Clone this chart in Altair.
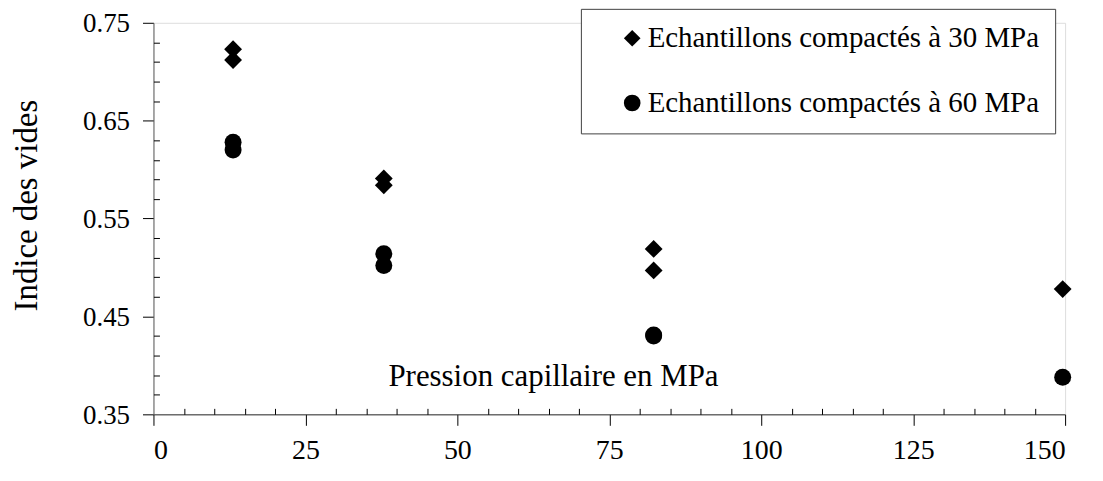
import altair as alt
import pandas as pd

series = ["Echantillons compactés à 30 MPa", "Echantillons compactés à 60 MPa"]

# capillary pressure (MPa) and void ratio
p_30 = [13.1, 13.1, 37.9, 37.9, 82.3, 82.3, 149.6]
e_30 = [0.723, 0.712, 0.591, 0.584, 0.519, 0.497, 0.478]
p_60 = [13.1, 13.1, 37.9, 37.9, 82.3, 82.3, 149.6]
e_60 = [0.628, 0.620, 0.514, 0.502, 0.431, 0.430, 0.388]

x_major = [0, 25, 50, 75, 100, 125, 150]
x_minor = [v for v in range(5, 150, 5) if v % 25 != 0]
y_major = [0.35, 0.45, 0.55, 0.65, 0.75]
y_minor = [0.37, 0.39, 0.41, 0.43, 0.47, 0.49, 0.51, 0.53, 0.57, 0.59, 0.61, 0.63, 0.67, 0.69, 0.71, 0.73]

df30 = pd.DataFrame({"p": p_30, "e": e_30, "serie": [series[0]] * len(p_30)})
df60 = pd.DataFrame({"p": p_60, "e": e_60, "serie": [series[1]] * len(p_60)})

FONT = "Liberation Serif"
xscale = alt.Scale(domain=[0, 150], nice=False, zero=False)
yscale = alt.Scale(domain=[0.35, 0.75], nice=False, zero=False)

x_axis = alt.Axis(
    orient="bottom", values=x_major, format="d", grid=False,
    tickSize=11, tickColor="black", domainColor="#303030",
    labelFont=FONT, labelFontSize=28, labelColor="black", labelPadding=11,
    labelBaseline="top",
    title="Pression capillaire en MPa", titleFont=FONT, titleFontSize=31,
    titleFontWeight="normal", titleColor="black",
    titleX=401, titleY=-38, titleAlign="center", titleBaseline="middle",
)
y_axis = alt.Axis(
    orient="left", values=y_major, format=".2f", grid=False,
    tickSize=11, tickColor="black", domainColor="#606060",
    labelFont=FONT, labelFontSize=27, labelColor="black", labelPadding=13,
    labelOffset=1,
    title="Indice des vides", titleFont=FONT, titleFontSize=33,
    titleFontWeight="normal", titleColor="black",
    titleX=-127, titleY=183, titleAlign="center", titleBaseline="middle", titleAngle=270,
)

shape_scale = alt.Scale(domain=series, range=["diamond", "circle"])
legend = alt.Legend(
    title=None, orient="none", legendX=429, legendY=-14,
    direction="vertical", strokeColor="#404040", fillColor="white",
    padding=15, rowPadding=35, symbolSize=280, symbolFillColor="black",
    symbolStrokeWidth=0, symbolOffset=22, labelOffset=1,
    labelFont=FONT, labelFontSize=29, labelColor="black", labelLimit=700,
    labelExpr="datum.label + ' \u2003'",
)

pts30 = alt.Chart(df30).mark_point(filled=True, opacity=1, color="black", strokeWidth=0, size=320).encode(
    x=alt.X("p:Q", scale=xscale, axis=x_axis),
    y=alt.Y("e:Q", scale=yscale, axis=y_axis),
    shape=alt.Shape("serie:N", scale=shape_scale, legend=legend),
)
pts60 = alt.Chart(df60).mark_point(filled=True, opacity=1, color="black", strokeWidth=0, size=290).encode(
    x=alt.X("p:Q", scale=xscale, axis=x_axis),
    y=alt.Y("e:Q", scale=yscale, axis=y_axis),
    shape=alt.Shape("serie:N", scale=shape_scale, legend=legend),
)

minor_df = pd.DataFrame({"p": [0, 150], "e": [0.35, 0.75]})
minor = alt.Chart(minor_df).mark_point(opacity=0).encode(
    x=alt.X("p:Q", scale=xscale, axis=alt.Axis(
        orient="bottom", values=x_minor, labels=False, domain=False, grid=False,
        tickSize=6, tickColor="black", offset=-6, title=None)),
    y=alt.Y("e:Q", scale=yscale, axis=alt.Axis(
        orient="left", values=y_minor, labels=False, domain=False, grid=False,
        tickSize=6, tickColor="black", offset=-6, title=None)),
)

main = alt.layer(pts30, pts60)

chart = alt.layer(main, minor).resolve_axis(x="independent", y="independent").properties(
    width=915, height=393,
    autosize=alt.AutoSizeParams(type="none"),
    padding={"left": 146, "top": 14, "right": 30, "bottom": 50},
).configure_view(stroke=None).configure(background="white")

chart.save("out.html", embed_options={"renderer": "svg", "actions": False})
